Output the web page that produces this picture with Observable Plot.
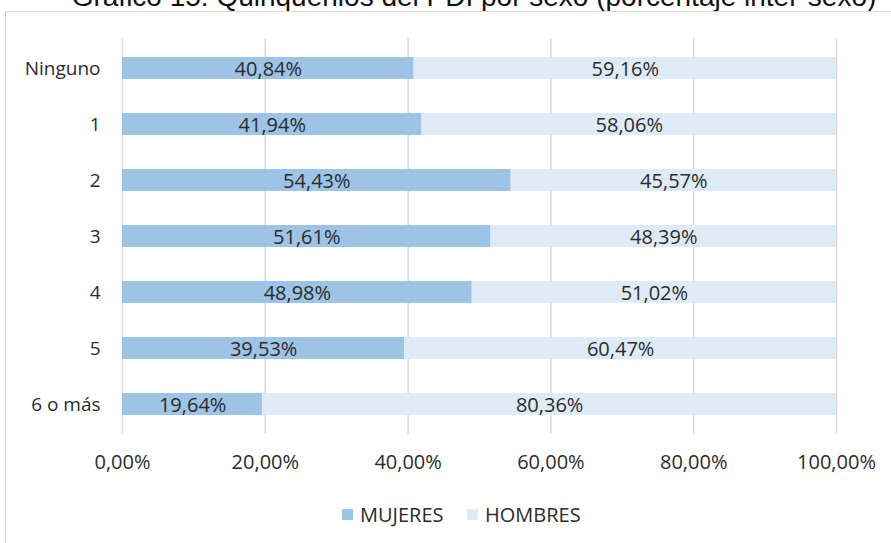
<!DOCTYPE html>
<html>
<head>
<meta charset="utf-8">
<script src="https://cdn.jsdelivr.net/npm/d3@7"></script>
<script src="https://cdn.jsdelivr.net/npm/@observablehq/plot@0.6"></script>
<style>
  html, body { margin: 0; padding: 0; background: #fff; width: 891px; height: 543px; overflow: hidden; }
  #wrap { position: relative; width: 891px; height: 543px; overflow: hidden; }
  #title { position: absolute; left: 0; width: 891px; top: -17px; text-align: center; font-family: "Liberation Sans", Arial, sans-serif; font-size: 28px; line-height: 28px; color: #111; white-space: nowrap; padding-left: 57px; box-sizing: border-box; }
  #frame { position: absolute; left: 5px; top: 11px; width: 1000px; height: 700px; border-left: 1.5px solid #dcc4dc; border-top: 1.5px solid #d9d9d9; }
  #chart { position: absolute; left: 0; top: 0; }
  #legend { position: absolute; left: 0; top: 500px; width: 891px; height: 30px; font-family: "Open Sans", sans-serif; font-size: 20px; color: #2b2b2b; }
  .item { position: absolute; top: 0; display: flex; align-items: center; height: 28px; }
  .sw { width: 11px; height: 11px; margin-right: 7px; }
</style>
</head>
<body>
<div id="wrap">
  <div id="title">Gráfico 15: Quinquenios del PDI por sexo (porcentaje inter-sexo)</div>
  <div id="frame"></div>
  <div id="chart"></div>
  <div id="legend"></div>
</div>
<script>
const categories = ["Ninguno", "1", "2", "3", "4", "5", "6 o más"];
const series = ["MUJERES", "HOMBRES"];
const mujeres = [40.84, 41.94, 54.43, 51.61, 48.98, 39.53, 19.64];
const hombres = [59.16, 58.06, 45.57, 48.39, 51.02, 60.47, 80.36];
const xTicks = [0, 20, 40, 60, 80, 100];
const colors = ["#9dc3e6", "#deebf7"];

const data = [];
categories.forEach((c, i) => {
  data.push({cat: c, sex: "MUJERES", value: mujeres[i]});
  data.push({cat: c, sex: "HOMBRES", value: hombres[i]});
});
const fmt = v => v.toFixed(2).replace(".", ",") + "%";

const chart = Plot.plot({
  width: 891,
  height: 474,
  marginLeft: 122,
  marginRight: 55,
  marginTop: 38,
  marginBottom: 40,
  style: {fontFamily: "Open Sans, sans-serif", fontSize: "20px", color: "#2b2b2b", background: "transparent", overflow: "visible"},
  x: {domain: [0, 100], ticks: xTicks, tickFormat: d => d.toFixed(2).replace(".", ",") + "%", tickSize: 0, tickPadding: 20, label: null},
  y: {domain: categories, paddingInner: 0.61, paddingOuter: 0.305, tickSize: 0, tickPadding: 22, label: null},
  color: {domain: series, range: colors},
  marks: [
    Plot.ruleX(xTicks, {stroke: "#d9d9d9", strokeWidth: 1.5}),
    Plot.barX(data, Plot.stackX({x: "value", y: "cat", fill: "sex", order: series})),
    Plot.text(data, Plot.stackX({x: "value", y: "cat", z: "sex", order: series, text: d => fmt(d.value), fill: "#2b2b2b", fontSize: 20, dy: 1})),
    Plot.axisY({tickSize: 0, tickPadding: 22, fontSize: 19, fill: "#2b2b2b"}),
    Plot.axisX({ticks: xTicks, tickFormat: d => d.toFixed(2).replace(".", ",") + "%", tickSize: 0, tickPadding: 20, fill: "#2b2b2b"})
  ]
});
document.getElementById("chart").appendChild(chart);

const legend = document.getElementById("legend");
const lx = [342, 467];
series.forEach((s, i) => {
  const it = document.createElement("div");
  it.className = "item";
  it.style.left = lx[i] + "px";
  const sw = document.createElement("div");
  sw.className = "sw";
  sw.style.background = colors[i];
  const t = document.createElement("span");
  t.textContent = s;
  it.appendChild(sw); it.appendChild(t);
  legend.appendChild(it);
});
</script>
</body>
</html>
